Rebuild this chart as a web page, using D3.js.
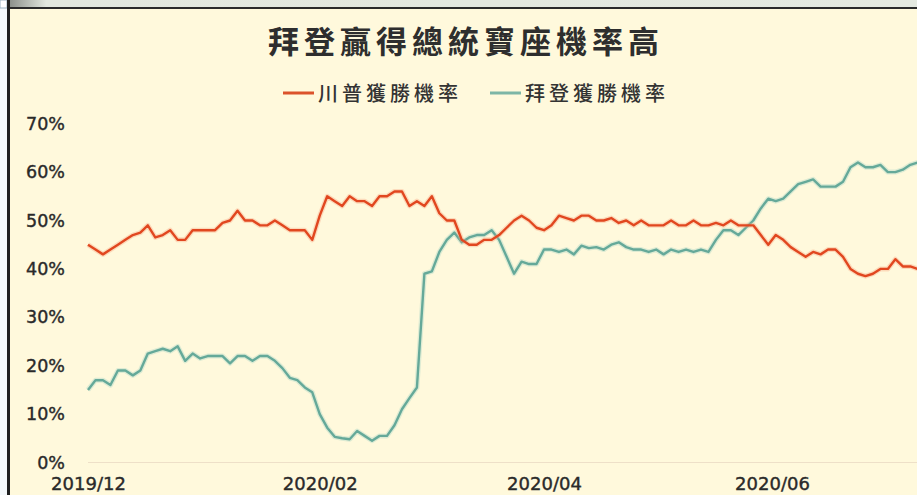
<!DOCTYPE html>
<html>
<head>
<meta charset="utf-8">
<script src="https://cdn.jsdelivr.net/npm/d3@7/dist/d3.min.js"></script>
<style>
  html, body { margin: 0; padding: 0; background: #f4f8fb; }
  svg { display: block; }
</style>
</head>
<body>
<svg id="chart" width="917" height="495"></svg>
<script>
// Chart text
const titleText = "拜登贏得總統寶座機率高";
const seriesNames = ["川普獲勝機率", "拜登獲勝機率"];

// Observations every two days starting 2019-12-01
const firstDate = "2019-12-01";
const stepDays = 2;

// 川普獲勝機率 (%)
const trumpValues = [
  45, 44, 43, 44, 45, 46, 47, 47.5, 49, 46.5,
  47, 48, 46, 46, 48, 48, 48, 48, 49.5, 50,
  52, 50, 50, 49, 49, 50, 49, 48, 48, 48,
  46, 51, 55, 54, 53, 55, 54, 54, 53, 55,
  55, 56, 56, 53, 54, 53, 55, 51.5, 50, 50,
  46, 45, 45, 46, 46, 47, 48.5, 50, 51, 50,
  48.5, 48, 49, 51, 50.5, 50, 51, 51, 50, 50,
  50.5, 49.5, 50, 49, 50, 49, 49, 49, 50, 49,
  49, 50, 49, 49, 49.5, 49, 50, 49, 49, 49,
  47, 45, 47, 46, 44.5, 43.5, 42.5, 43.5, 43, 44,
  44, 42.5, 40, 39, 38.5, 39, 40, 40, 42, 40.5,
  40.5, 40
];

// 拜登獲勝機率 (%)
const bidenValues = [
  15, 17, 17, 16, 19, 19, 18, 19, 22.5, 23,
  23.5, 23, 24, 21, 22.5, 21.5, 22, 22, 22, 20.5,
  22, 22, 21, 22, 22, 21, 19.5, 17.5, 17, 15.5,
  14.5, 10, 7.2, 5.3, 5, 4.8, 6.5, 5.5, 4.5, 5.5,
  5.5, 7.7, 11, 13.3, 15.5, 39, 39.5, 43.5, 46, 47.5,
  45.5, 46.5, 47, 47, 48, 46, 42.5, 39, 41.5, 41,
  41, 44, 44, 43.5, 44, 43, 44.8, 44.3, 44.5, 44,
  45, 45.5, 44.5, 44, 44, 43.5, 44, 43, 44, 43.5,
  44, 43.5, 44, 43.5, 46, 48, 48, 47, 48.5, 50,
  52.5, 54.5, 54, 54.5, 56, 57.5, 58, 58.5, 57, 57,
  57, 58, 61, 62, 61, 61, 61.5, 60, 60, 60.5,
  61.5, 62
];

// Axis ticks
const yTicks = [0, 10, 20, 30, 40, 50, 60, 70];
const xTickDates = ["2019-12-01", "2020-02-01", "2020-04-01", "2020-06-01"];

const colors = { trump: "#e1471f", biden: "#65a999" };

const svg = d3.select("#chart");
const W = 917, H = 495;

// Frame around the chart
svg.append("rect").attr("x", 0).attr("y", 0).attr("width", W).attr("height", H).attr("fill", "#f4f8fb");
const grad = svg.append("defs").append("linearGradient").attr("id", "barShade");
grad.append("stop").attr("offset", "0%").attr("stop-color", "#8d918c");
grad.append("stop").attr("offset", "4%").attr("stop-color", "#e2e7de");
grad.append("stop").attr("offset", "100%").attr("stop-color", "#e4e9e0");
svg.append("rect").attr("x", 10).attr("y", 0).attr("width", W - 10).attr("height", 7).attr("fill", "url(#barShade)");
svg.append("rect").attr("x", 0).attr("y", 0).attr("width", 7).attr("height", 8)
  .attr("fill", "#ffffff").attr("stroke", "#9fb4c4").attr("stroke-width", 1);
svg.append("rect").attr("x", 10).attr("y", 7).attr("width", W - 10).attr("height", 2).attr("fill", "#2a2a2a");
svg.append("rect").attr("x", 7).attr("y", 0).attr("width", 3).attr("height", H).attr("fill", "#1f1f1f");
svg.append("rect").attr("x", 10).attr("y", 9).attr("width", W - 10).attr("height", H - 9).attr("fill", "#fff9dc");

// Scales
const parse = d3.utcParse("%Y-%m-%d");
const x = d3.scaleUtc()
  .domain([parse("2019-12-01"), parse("2020-06-01")])
  .range([88, 772]);
const y = d3.scaleLinear().domain([0, 70]).range([462.5, 123.7]);

const start = parse(firstDate);
const dates = trumpValues.map((_, i) => d3.utcDay.offset(start, i * stepDays));

// Title
svg.append("text")
  .attr("x", 466).attr("y", 53)
  .attr("text-anchor", "middle")
  .attr("font-family", "'Noto Sans CJK TC', 'Noto Sans CJK SC', sans-serif")
  .attr("font-size", 31)
  .attr("font-weight", 600)
  .attr("letter-spacing", 5)
  .attr("fill", "#2e2e2e")
  .text(titleText);

// Legend
const legend = [
  { name: seriesNames[0], color: "#db532b", x0: 283 },
  { name: seriesNames[1], color: "#7db6a6", x0: 490 }
];
const lg = svg.append("g");
legend.forEach(d => {
  lg.append("line").attr("x1", d.x0).attr("x2", d.x0 + 31).attr("y1", 93).attr("y2", 93)
    .attr("stroke", d.color).attr("stroke-width", 3);
  lg.append("text").attr("x", d.x0 + 35).attr("y", 100.5)
    .attr("font-family", "'Noto Sans CJK TC', 'Noto Sans CJK SC', sans-serif")
    .attr("font-size", 20).attr("font-weight", 500).attr("letter-spacing", 4)
    .attr("fill", "#333").text(d.name);
});

// Baseline
svg.append("line").attr("x1", 88).attr("x2", W).attr("y1", y(0)).attr("y2", y(0))
  .attr("stroke", "#eee0c8").attr("stroke-width", 1);

// Y axis
const yAxis = svg.append("g").attr("transform", "translate(65,0)")
  .call(d3.axisLeft(y).tickValues(yTicks).tickSize(0).tickPadding(0).tickFormat(d => d + "%"));
yAxis.select(".domain").remove();
yAxis.selectAll("text")
  .attr("font-family", "'DejaVu Sans', Verdana, sans-serif")
  .attr("font-size", 17.5).attr("fill", "#2a2a2a")
  .attr("stroke", "#2a2a2a").attr("stroke-width", 0.4);

// X axis
const xAxis = svg.append("g").attr("transform", `translate(0,${y(0)})`)
  .call(d3.axisBottom(x).tickValues(xTickDates.map(parse)).tickSize(0).tickPadding(14.5)
    .tickFormat(d3.utcFormat("%Y/%m")));
xAxis.select(".domain").remove();
xAxis.selectAll("text")
  .attr("font-family", "'DejaVu Sans', Verdana, sans-serif")
  .attr("font-size", 18).attr("fill", "#2a2a2a")
  .attr("stroke", "#2a2a2a").attr("stroke-width", 0.4);

// Lines
const line = d3.line().x(d => x(d.date)).y(d => y(d.value));
const series = [
  { values: bidenValues, color: colors.biden, halo: "#9fd0c2" },
  { values: trumpValues, color: colors.trump, halo: "#f7a07a" }
];
const plot = svg.append("g");
series.forEach(s => {
  const pts = s.values.map((v, i) => ({ date: dates[i], value: v }));
  plot.append("path").datum(pts).attr("d", line)
    .attr("fill", "none").attr("stroke", s.halo).attr("stroke-width", 5)
    .attr("stroke-opacity", 0.35).attr("stroke-linejoin", "round");
  plot.append("path").datum(pts).attr("d", line)
    .attr("fill", "none").attr("stroke", s.color).attr("stroke-width", 2.4)
    .attr("stroke-linejoin", "round");
});
</script>
</body>
</html>
